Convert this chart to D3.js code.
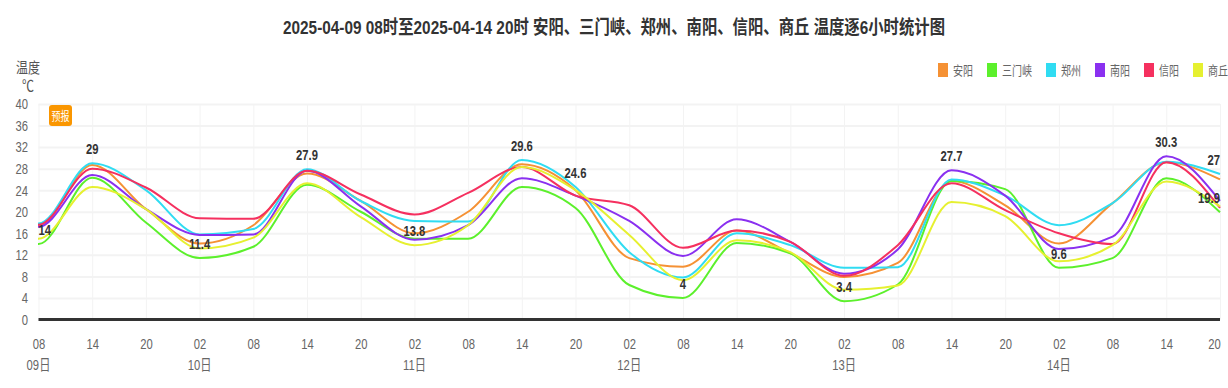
<!DOCTYPE html>
<html>

<head>
	<meta charset="utf-8" />
	<title>温度逐6小时统计图</title>
	<script src="https://d3js.org/d3.v7.min.js"></script>
	<style>
		body {
			margin: 0;
			padding: 0;
			background: #fff;
		}

		svg {
			display: block;
		}

		text {
			font-family: "Liberation Sans", "Noto Sans CJK SC", sans-serif;
		}

		.grid line {
			stroke: #f3f3f3;
		}

		.grid path {
			display: none;
		}
	</style>
</head>

<body>
	<div id="chart"></div>
	<script>
		var w = 1228;
		var h = 388;

		var margin = ({
			top: 104,
			right: 8,
			bottom: 68.5,
			left: 38.5
		});

		// the reference text is squeezed sideways
		var squeeze = 0.75;

		var titleText = '2025-04-09 08时至2025-04-14 20时 安阳、三门峡、郑州、南阳、信阳、商丘 温度逐6小时统计图';

		var hours = ['08', '14', '20', '02', '08', '14', '20', '02', '08', '14', '20', '02', '08', '14', '20', '02', '08', '14', '20', '02', '08', '14', '20'];
		var days = ['09日', '', '', '10日', '', '', '', '11日', '', '', '', '12日', '', '', '', '13日', '', '', '', '14日', '', '', ''];
		var yTicks = [0, 4, 8, 12, 16, 20, 24, 28, 32, 36, 40];

		var names = ['安阳', '三门峡', '郑州', '南阳', '信阳', '商丘'];
		var colors = ['#f59134', '#5cf02c', '#30dcf2', '#8a30f0', '#f5305f', '#e6f030'];

		var anyang = [17.3, 28.7, 20.5, 14.1, 17.5, 27.1, 22, 16, 20, 28.8, 24, 11.4, 9.8, 16.5, 12.3, 7.9, 10.5, 25.7, 21.2, 14.1, 21.6, 29.2, 26];
		var sanmenxia = [14, 26.3, 18, 11.4, 13.5, 25, 20, 15, 15, 24.6, 20.7, 6.4, 4, 14.2, 12.3, 3.4, 6.5, 25.7, 24.2, 9.6, 11.4, 26.2, 19.9];
		var zhengzhou = [17.8, 29, 24, 15.8, 16.8, 27.9, 22, 18.3, 18.2, 29.6, 24.6, 12.5, 7.8, 16, 13.8, 9.6, 9.7, 26, 23, 17.5, 21.6, 29.3, 27];
		var nanyang = [17.2, 26.8, 20.5, 15.7, 15.8, 27.6, 21, 14.8, 17.5, 26.2, 23, 18.3, 11.8, 18.6, 14.4, 8.5, 13, 27.7, 23, 13.1, 15.4, 30.3, 22];
		var xinyang = [17.6, 28, 24.5, 18.8, 18.7, 27.6, 23.2, 19.5, 23.5, 28.3, 23, 21.2, 13.3, 16.5, 14.4, 8.1, 13.8, 25.3, 20.3, 16, 14, 29.2, 20.7];
		var shangqiu = [15, 24.6, 20.5, 13.2, 15.2, 25.3, 19, 13.8, 17.5, 28.3, 24, 15.7, 7.3, 14.7, 12.5, 5.5, 6.3, 21.8, 19.2, 10.8, 13.8, 25.6, 21];
		var series = [anyang, sanmenxia, zhengzhou, nanyang, xinyang, shangqiu];

		// which point of which series carries a value label
		var labelSeries = [1, 2, 1, 2, 5, 2, 2, 1, 1, 3, 1, 3, 2, 1];
		var labelPoints = [0, 1, 3, 5, 7, 9, 10, 12, 15, 17, 19, 21, 22, 22];

		var xScale = d3.scalePoint()
			.domain(d3.range(hours.length))
			.range([margin.left, w - margin.right]);

		var yScale = d3.scaleLinear()
			.domain([0, 40])
			.range([h - margin.bottom, margin.top]);

		var svg = d3.select('#chart')
			.append('svg')
			.attr('width', w)
			.attr('height', h);

		function place(x, y, sx) {
			return 'translate(' + x + ',' + y + ') scale(' + (sx || squeeze) + ',1)';
		}

		// monotone curve that leaves its first point flat, like the reference
		function flatStart(context) {
			var curve = d3.curveMonotoneX(context);
			var first = true;
			return {
				lineStart: function() {
					first = true;
					curve.lineStart();
				},
				lineEnd: function() {
					curve.lineEnd();
				},
				point: function(x, y) {
					if (first) {
						curve.point(x - 0.5, y);
						first = false;
					}
					curve.point(x, y);
				}
			};
		}

		svg.append('text')
			.attr('x', 614)
			.attr('y', 34)
			.attr('text-anchor', 'middle')
			.attr('font-size', '19px')
			.attr('font-weight', 'bold')
			.attr('fill', '#333')
			.attr('textLength', 662)
			.attr('lengthAdjust', 'spacingAndGlyphs')
			.text(titleText);

		svg.append('text')
			.attr('transform', place(28, 73, 0.8))
			.attr('text-anchor', 'middle')
			.attr('font-size', '15px')
			.attr('fill', '#555')
			.text('温度');

		svg.append('text')
			.attr('transform', place(28, 91, 0.8))
			.attr('text-anchor', 'middle')
			.attr('font-size', '15px')
			.attr('fill', '#555')
			.text('℃');

		// vertical grid and hour labels
		var xAxis = svg.append('g')
			.attr('class', 'grid')
			.attr('transform', 'translate(0,' + (h - margin.bottom) + ')')
			.call(d3.axisBottom(xScale)
				.tickSize(-(h - margin.top - margin.bottom))
				.tickPadding(19)
				.tickFormat(function(d) {
					return hours[d];
				}));

		// last hour label sits a little left of its tick
		xAxis.selectAll('text')
			.attr('font-size', '15px')
			.attr('fill', '#666')
			.attr('transform', function(d) {
				var shift = d === hours.length - 1 ? -6 : 0;
				return 'translate(' + shift + ',0) scale(' + squeeze + ',1)';
			});

		// day labels under the hours
		svg.selectAll('text.day')
			.data(days)
			.join('text')
			.attr('class', 'day')
			.attr('transform', function(d, i) {
				return place(xScale(i), 369.5);
			})
			.attr('text-anchor', 'middle')
			.attr('font-size', '15px')
			.attr('fill', '#666')
			.text(function(d) {
				return d;
			});

		var yAxis = svg.append('g')
			.attr('class', 'grid')
			.attr('transform', 'translate(' + margin.left + ',0)')
			.call(d3.axisLeft(yScale)
				.tickValues(yTicks)
				.tickSize(-(w - margin.left - margin.right))
				.tickPadding(10));

		yAxis.selectAll('line')
			.attr('stroke-width', 2);

		yAxis.selectAll('text')
			.attr('font-size', '15px')
			.attr('fill', '#666')
			.attr('x', -10.5 / squeeze)
			.attr('transform', 'scale(' + squeeze + ',1)');

		// badge
		svg.append('rect')
			.attr('x', 49)
			.attr('y', 105)
			.attr('width', 23)
			.attr('height', 21)
			.attr('rx', 3)
			.attr('fill', '#fa9600');

		svg.append('text')
			.attr('transform', place(60.5, 120.5))
			.attr('text-anchor', 'middle')
			.attr('font-size', '12px')
			.attr('fill', '#fff')
			.text('预报');

		var line = d3.line()
			.x(function(d, i) {
				return xScale(i);
			})
			.y(function(d) {
				return yScale(d);
			})
			.curve(flatStart);

		svg.selectAll('path.series')
			.data(series)
			.join('path')
			.attr('class', 'series')
			.attr('fill', 'none')
			.attr('stroke', function(d, i) {
				return colors[i];
			})
			.attr('stroke-width', 2)
			.attr('d', line);

		// zero line on top of everything
		svg.append('line')
			.attr('x1', margin.left)
			.attr('x2', w - margin.right)
			.attr('y1', yScale(0))
			.attr('y2', yScale(0))
			.attr('stroke', '#333')
			.attr('stroke-width', 3);

		// value labels, pushed back inside the plot at both ends
		svg.selectAll('text.value')
			.data(labelPoints)
			.join('text')
			.attr('class', 'value')
			.attr('text-anchor', 'middle')
			.attr('font-size', '15px')
			.attr('font-weight', 'bold')
			.attr('fill', '#333')
			.text(function(d, i) {
				return series[labelSeries[i]][d];
			})
			.attr('transform', function(d, i) {
				var half = this.getComputedTextLength() * squeeze / 2;
				var x = Math.max(margin.left + half, Math.min(w - margin.right - half, xScale(d)));
				return place(x, yScale(series[labelSeries[i]][d]) - 9);
			});

		// legend
		var legendX = 938;
		names.forEach(function(name, i) {
			svg.append('rect')
				.attr('x', legendX)
				.attr('y', 63)
				.attr('width', 10)
				.attr('height', 14)
				.attr('fill', colors[i]);

			svg.append('text')
				.attr('transform', place(legendX + 15, 75, 0.77))
				.attr('font-size', '13px')
				.attr('fill', '#666')
				.text(name);

			legendX += 29 + name.length * 10;
		});
	</script>
</body>

</html>
